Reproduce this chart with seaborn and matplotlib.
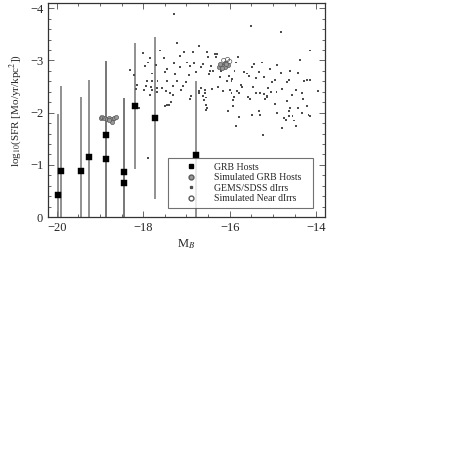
import numpy as np
import matplotlib
matplotlib.use('Agg')
import matplotlib.pyplot as plt
from matplotlib.lines import Line2D
from matplotlib.ticker import MultipleLocator
import seaborn as sns

# GRB hosts (squares) with vertical error bars
grb_mb = [-19.96, -19.89, -19.44, -19.26, -18.85, -18.85, -18.45, -18.45, -18.18, -17.73, -16.79]
grb_sfr = [-0.42, -0.89, -0.89, -1.15, -1.57, -1.12, -0.87, -0.65, -2.12, -1.89, -1.19]
grb_top = [-1.97, -2.51, -2.30, -2.63, -2.98, -2.98, -2.29, -2.29, -3.33, -3.45, -2.61]
grb_bot = [0.0, 0.0, 0.0, 0.0, 0.0, 0.0, 0.0, 0.0, -0.93, -0.34, 0.0]

# simulated GRB hosts (two clumps)
sim_mb = [-18.97, -18.90, -18.83, -18.78, -18.73, -18.68, -18.63, -18.72, -18.80,
          -16.25, -16.20, -16.15, -16.10, -16.05, -16.18, -16.12, -16.08, -16.22]
sim_sfr = [-1.90, -1.89, -1.88, -1.90, -1.87, -1.89, -1.91, -1.83, -1.86,
           -2.88, -2.92, -2.90, -2.88, -2.91, -2.86, -2.95, -2.93, -2.93]

# simulated near dIrrs (open circles)
near_mb = [-18.95, -16.05, -16.00, -16.14]
near_sfr = [-1.91, -3.02, -2.98, -3.00]

# GEMS/SDSS dIrrs (small dots)
gems_mb = [-18.30, -18.22, -18.17, -18.15, -18.09,
           -17.29, -17.21, -16.70, -18.01, -17.62, -17.06, -16.85, -17.85, -17.53, -17.14,
           -17.89, -17.29, -16.98, -16.83, -16.62, -17.95, -17.71, -17.46, -17.14, -16.92,
           -16.66, -17.80, -17.50, -17.26, -16.95, -16.79, -17.92, -17.79, -17.67, -17.46,
           -17.23, -17.00, -17.93, -17.82, -17.69, -17.57, -17.31, -17.09, -16.66, -17.99,
           -17.79, -17.69, -17.48, -17.38, -17.12, -16.70, -17.32, -17.84, -16.89, -16.62,
           -16.72, -16.91, -17.35, -17.40, -17.44, -17.50, -16.56, -17.89,
           -15.50, -16.52, -16.34, -16.29, -16.50, -16.32, -15.81, -16.44, -15.86, -15.45,
           -15.26, -15.48, -16.46, -16.38, -16.21, -15.89, -15.68, -15.60, -15.33, -16.47,
           -16.23, -16.02, -15.56, -15.39, -15.21, -15.94, -16.06, -15.96, -15.73, -15.71,
           -16.27, -15.47, -16.57, -16.40, -16.15, -15.99, -15.83, -15.79, -16.57, -15.96,
           -15.39, -15.29, -15.20, -15.15, -16.55, -15.58, -15.53, -15.18, -15.90, -16.60,
           -15.92, -16.55, -16.52, -15.92, -16.55, -16.04, -15.33, -15.48, -15.30, -15.79,
           -15.86, -15.24,
           -14.82, -14.14, -14.37, -14.90, -15.08, -14.60, -14.82, -14.43, -14.96, -14.64,
           -14.21, -14.15, -15.02, -14.67, -14.29, -15.11, -14.79, -14.48, -15.05, -14.92,
           -14.34, -13.95, -15.15, -14.56, -14.31, -14.67, -14.96, -14.21, -14.61, -14.42,
           -14.62, -14.90, -14.34, -14.18, -14.15, -14.64, -14.55, -14.75, -14.70, -14.52,
           -14.47, -14.80]
gems_sfr = [-2.82, -2.72, -2.45, -2.53, -2.09,
            -3.88, -3.33, -3.27, -3.14, -3.19, -3.17, -3.16, -3.04, -3.04, -3.08,
            -2.96, -2.95, -2.96, -2.95, -2.93, -2.90, -2.91, -2.84, -2.87, -2.89,
            -2.87, -2.75, -2.77, -2.74, -2.72, -2.78, -2.60, -2.61, -2.60, -2.60,
            -2.61, -2.58, -2.51, -2.49, -2.48, -2.47, -2.51, -2.51, -2.48, -2.43,
            -2.43, -2.40, -2.42, -2.38, -2.44, -2.42, -2.33, -2.33, -2.32, -2.31,
            -2.38, -2.26, -2.21, -2.14, -2.14, -2.13, -2.06, -1.14,
            -3.65, -3.16, -3.12, -3.12, -3.06, -3.06, -3.06, -2.90, -2.96, -2.94,
            -2.96, -2.88, -2.80, -2.80, -2.80, -2.80, -2.77, -2.75, -2.78, -2.74,
            -2.69, -2.71, -2.71, -2.67, -2.69, -2.64, -2.61, -2.60, -2.53, -2.49,
            -2.49, -2.49, -2.43, -2.45, -2.42, -2.43, -2.42, -2.38, -2.38, -2.37,
            -2.38, -2.37, -2.35, -2.30, -2.29, -2.30, -2.27, -2.27, -2.30, -2.24,
            -2.24, -2.14, -2.09, -2.13, -2.06, -2.04, -2.04, -1.96, -1.95, -1.91,
            -1.74, -1.57,
            -3.54, -3.19, -3.01, -2.92, -2.84, -2.80, -2.76, -2.76, -2.63, -2.62,
            -2.63, -2.63, -2.58, -2.58, -2.60, -2.48, -2.45, -2.44, -2.40, -2.40,
            -2.38, -2.42, -2.32, -2.33, -2.27, -2.22, -2.16, -2.13, -2.09, -2.09,
            -2.04, -2.00, -2.00, -1.95, -1.93, -1.93, -1.93, -1.90, -1.86, -1.85,
            -1.75, -1.71]

sns.set_style('ticks')
plt.rcParams['font.family'] = ['Liberation Serif', 'DejaVu Serif']
plt.rcParams['mathtext.fontset'] = 'stix'

fig = plt.figure(figsize=(4.73, 4.73), dpi=100)
ax = fig.add_axes([0.1015, 0.541, 0.5855, 0.4527])

grb_mb = np.array(grb_mb)
grb_sfr = np.array(grb_sfr)
# errorbar: y - err[0] is the top (more negative) end, y + err[1] the bottom end
yerr = [grb_sfr - np.array(grb_top), np.array(grb_bot) - grb_sfr]
ax.errorbar(grb_mb, grb_sfr, yerr=yerr, fmt='none', ecolor='0.45', elinewidth=1.1, capsize=0, zorder=2)
sns.scatterplot(x=grb_mb, y=grb_sfr, marker='s', s=14, color='black', edgecolor='black', linewidth=0.3, ax=ax, zorder=4)
sns.scatterplot(x=gems_mb, y=gems_sfr, marker='s', s=2.0, color='0.3', edgecolor='none', ax=ax, zorder=3)
sns.scatterplot(x=sim_mb, y=sim_sfr, marker='o', s=9, color='0.6', edgecolor='0.35', linewidth=0.5, ax=ax, zorder=3)
sns.scatterplot(x=near_mb, y=near_sfr, marker='o', s=9, facecolor='none', edgecolor='0.35', linewidth=0.5, ax=ax, zorder=3)

ax.set_xlim(-20.2, -13.8)
ax.set_ylim(0.0, -4.1)
ax.xaxis.set_major_locator(MultipleLocator(2))
ax.xaxis.set_minor_locator(MultipleLocator(0.5))
ax.yaxis.set_major_locator(MultipleLocator(1))
ax.yaxis.set_minor_locator(MultipleLocator(0.2))
ax.tick_params(which='both', direction='in', top=True, right=True, labelsize=9, width=0.6, color='0.3')
ax.tick_params(which='major', length=4)
ax.tick_params(which='minor', length=2)
for sp in ax.spines.values():
    sp.set_linewidth(0.9)
    sp.set_color('0.2')

ax.set_xlabel('M$_B$', fontsize=9, labelpad=2)
ax.set_ylabel('log$_{10}$(SFR [Mo/yr/kpc$^2$])', fontsize=8, labelpad=4)

handles = [
    Line2D([], [], marker='s', ls='none', color='black', markersize=3.5),
    Line2D([], [], marker='o', ls='none', color='0.6', markeredgecolor='0.35', markersize=3.5),
    Line2D([], [], marker='s', ls='none', color='0.3', markersize=1.4),
    Line2D([], [], marker='o', ls='none', markerfacecolor='none', markeredgecolor='0.35', markersize=3.5),
]
labels = ['GRB Hosts', 'Simulated GRB Hosts', 'GEMS/SDSS dIrrs', 'Simulated Near dIrrs']
leg = ax.legend(handles, labels, loc='lower left', bbox_to_anchor=(0.433, 0.042, 0.524, 0.21),
                mode='expand', fontsize=7, frameon=True, fancybox=False, borderpad=0.5,
                labelspacing=0.15, handlelength=3.8, handletextpad=0.4, borderaxespad=0)
leg.get_frame().set_edgecolor('0.3')
leg.get_frame().set_linewidth(0.8)

fig.savefig('out.png', dpi=100)
